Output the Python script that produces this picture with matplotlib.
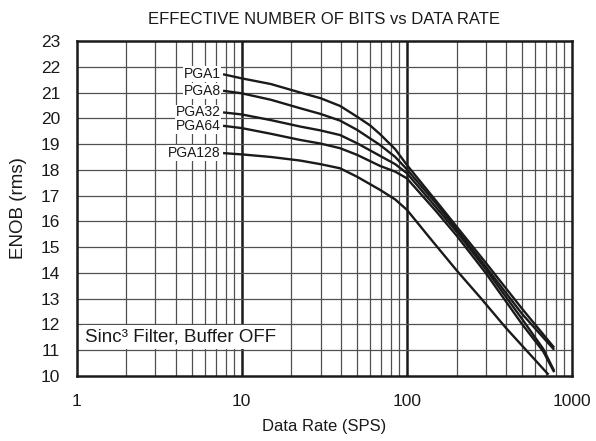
import numpy as np
import matplotlib
matplotlib.use("Agg")
import matplotlib.pyplot as plt

plt.rcParams["font.family"] = ["Liberation Sans", "DejaVu Sans"]

# data rate (SPS) and ENOB, one list per PGA gain
rate_pga1 = [7.7, 10, 15, 22.6, 30, 39.4, 50, 60, 68.9, 85, 100, 150, 200, 300, 500, 780]
enob_pga1 = [21.71, 21.55, 21.33, 21.0, 20.78, 20.48, 20.06, 19.72, 19.38, 18.8, 18.19,
             16.8, 15.8, 14.4, 12.6, 11.1]

rate_pga8 = [7.7, 10, 15, 22.6, 30, 39.4, 50, 68.9, 85, 100, 150, 200, 300, 500, 780]
enob_pga8 = [21.07, 20.97, 20.72, 20.39, 20.17, 19.91, 19.55, 18.96, 18.5, 18.02,
             16.7, 15.7, 14.25, 12.4, 11.02]

rate_pga32 = [7.7, 10, 15, 22.6, 30, 39.4, 50, 68.9, 85, 100, 150, 200, 300, 500, 670, 780]
enob_pga32 = [20.23, 20.15, 19.93, 19.68, 19.53, 19.35, 19.03, 18.54, 18.22, 17.87,
              16.55, 15.6, 14.15, 12.2, 11.05, 10.2]

rate_pga64 = [7.7, 10, 15, 22.6, 30, 39.4, 50, 68.9, 85, 100, 150, 200, 300, 500, 670, 780]
enob_pga64 = [19.71, 19.62, 19.4, 19.16, 19.02, 18.84, 18.58, 18.15, 17.93, 17.67,
              16.4, 15.45, 14.0, 12.0, 10.95, 10.15]

rate_pga128 = [7.7, 10, 15, 22.6, 30, 39.4, 50, 68.9, 85, 100, 138, 200, 278, 400, 721]
enob_pga128 = [18.65, 18.6, 18.5, 18.36, 18.22, 18.06, 17.73, 17.22, 16.85, 16.45,
               15.35, 14.1, 13.05, 11.85, 10.05]

series = [
    ("PGA1", rate_pga1, enob_pga1),
    ("PGA8", rate_pga8, enob_pga8),
    ("PGA32", rate_pga32, enob_pga32),
    ("PGA64", rate_pga64, enob_pga64),
    ("PGA128", rate_pga128, enob_pga128),
]

fig = plt.figure(figsize=(5.96, 4.41), dpi=100)
ax = fig.add_axes([0.1287, 0.1474, 0.8310, 0.7596])

ax.set_xscale("log")
ax.set_xlim(1, 1000)
ax.set_ylim(10, 23)

# grid: thick decades, thin minor lines, one line per bit
for dec in (10, 100):
    ax.axvline(dec, color="#1a1a1a", lw=1.8, zorder=1)
for dec in (1, 10, 100):
    for m in range(2, 10):
        ax.axvline(dec * m, color="#505050", lw=0.9, zorder=1)
for yv in range(11, 23):
    ax.axhline(yv, color="#505050", lw=0.9, zorder=1)

for name, x, y in series:
    ax.plot(x, y, color="#1a1a1a", lw=1.7, zorder=3, solid_capstyle="butt",
            solid_joinstyle="round")
    ax.text(x[0] * 0.965, y[0], name, ha="right", va="center", fontsize=10,
            color="#1a1a1a", zorder=4,
            bbox=dict(facecolor="white", edgecolor="none", pad=0.6))

ax.text(1.13, 11.5, "Sinc³ Filter, Buffer OFF", ha="left", va="center",
        fontsize=13.5, color="#1a1a1a", zorder=4,
        bbox=dict(facecolor="white", edgecolor="none", pad=2.4))

ax.set_xticks([1, 10, 100, 1000])
ax.set_xticklabels(["1", "10", "100", "1000"])
ax.xaxis.set_minor_locator(matplotlib.ticker.NullLocator())
ax.set_yticks(range(10, 24))
ax.tick_params(length=0, labelsize=12.5, colors="#1a1a1a")
ax.tick_params(axis="x", pad=13)
ax.tick_params(axis="y", pad=12)

for sp in ax.spines.values():
    sp.set_linewidth(1.8)
    sp.set_color("#1a1a1a")
    sp.set_zorder(5)

ax.set_xlabel("Data Rate (SPS)", fontsize=12, color="#1a1a1a", labelpad=7)
ax.set_ylabel("ENOB (rms)", fontsize=13.5, color="#1a1a1a", labelpad=10)
ax.set_title("EFFECTIVE NUMBER OF BITS vs DATA RATE", fontsize=12,
             color="#1a1a1a", pad=12)

fig.savefig("out.png", dpi=100)
